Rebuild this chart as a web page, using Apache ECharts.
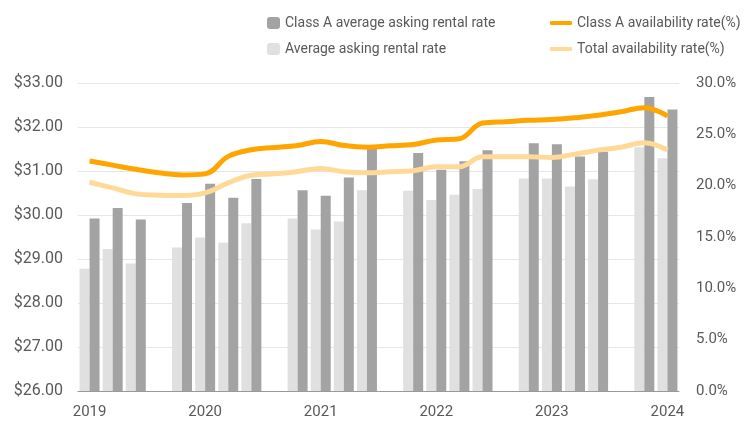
<!DOCTYPE html>
<html>
<head>
<meta charset="utf-8">
<script src="https://cdn.jsdelivr.net/npm/echarts@6/dist/echarts.min.js"></script>
<style>
  html, body { margin: 0; padding: 0; background: #fff; }
  #chart { width: 747px; height: 421px; }
</style>
</head>
<body>
<div id="chart"></div>
<script>
// 26 slots: 4 quarters per year with an empty slot between years
var yearLabels = ["2019", "2020", "2021", "2022", "2023", "2024"];
var slots = [];
for (var i = 0; i < 26; i++) slots.push("s" + i);

var classARent = [29.92, 30.16, 29.90, null, 30.27, 30.71, 30.39, 30.82, null, 30.56, 30.44, 30.85, 31.51, null,
                  31.41, 31.03, 31.22, 31.47, null, 31.63, 31.61, 31.33, 31.44, null, 32.68, 32.40];
var avgRent = [28.78, 29.23, 28.90, null, 29.26, 29.49, 29.37, 29.81, null, 29.92, 29.67, 29.85, 30.56, null,
               30.55, 30.34, 30.46, 30.59, null, 30.83, 30.83, 30.65, 30.81, null, 31.54, 31.29];
var classAAvail = [22.4, 22.0, 21.6, 21.25, 21.05, 21.15, 22.85, 23.5, 23.72, 23.92, 24.3, 23.92, 23.75, 23.88,
                   24.0, 24.45, 24.57, 26.1, 26.23, 26.36, 26.45, 26.62, 26.85, 27.2, 27.6, 26.78];
var totalAvail = [20.33, 19.78, 19.2, 19.07, 19.04, 19.3, 20.27, 21.02, 21.15, 21.38, 21.67, 21.35, 21.25, 21.35,
                  21.45, 21.84, 21.84, 22.81, 22.81, 22.81, 22.75, 23.07, 23.46, 23.75, 24.18, 23.46];

var chart = echarts.init(document.getElementById("chart"));
var font = "Roboto";
var textColor = "#595959";

var option = {
  animation: false,
  textStyle: { fontFamily: font },
  legend: [
    {
      left: 262,
      top: 11,
      orient: "vertical",
      itemWidth: 13,
      itemHeight: 12,
      itemGap: 12,
      textStyle: { fontFamily: font, fontSize: 14, color: textColor, lineHeight: 14 },
      data: ["Class A average asking rental rate", "Average asking rental rate"]
    },
    {
      left: 545,
      top: 11,
      orient: "vertical",
      icon: "roundRect",
      itemWidth: 22,
      itemHeight: 4,
      itemGap: 12,
      textStyle: { fontFamily: font, fontSize: 14, color: textColor, lineHeight: 14 },
      data: ["Class A availability rate(%)", "Total availability rate(%)"]
    }
  ],
  grid: { left: 78, right: 68, top: 83, bottom: 30 },
  xAxis: {
    type: "category",
    data: slots,
    axisTick: { show: false },
    axisLine: { lineStyle: { color: "#999", width: 1 } },
    axisLabel: {
      interval: 0,
      color: textColor,
      fontSize: 15,
      margin: 14,
      formatter: function (v, idx) {
        return idx % 5 === 0 ? yearLabels[idx / 5] : "";
      }
    }
  },
  yAxis: [
    {
      type: "value",
      min: 26,
      max: 33,
      interval: 1,
      axisLine: { show: false },
      axisTick: { show: false },
      splitLine: { lineStyle: { color: "#e6e6e6", width: 1 } },
      axisLabel: {
        color: textColor,
        fontSize: 16,
        margin: 15,
        formatter: function (v) { return "$" + v.toFixed(2); }
      }
    },
    {
      type: "value",
      min: 0,
      max: 30,
      interval: 5,
      axisLine: { show: false },
      axisTick: { show: false },
      splitLine: { show: false },
      axisLabel: {
        color: textColor,
        fontSize: 15,
        margin: 17,
        formatter: function (v) { return v.toFixed(1) + "%"; }
      }
    }
  ],
  series: [
    {
      name: "Average asking rental rate",
      type: "bar",
      barWidth: 10,
      barGap: "0%",
      itemStyle: { color: "#e0e0e0" },
      data: avgRent
    },
    {
      name: "Class A average asking rental rate",
      type: "bar",
      barWidth: 10,
      barGap: "0%",
      itemStyle: { color: "#a3a3a3" },
      data: classARent
    },
    {
      name: "Class A availability rate(%)",
      type: "line",
      yAxisIndex: 1,
      smooth: 0.4,
      symbol: "none",
      lineStyle: { color: "#ffa500", width: 5 },
      itemStyle: { color: "#ffa500" },
      data: classAAvail
    },
    {
      name: "Total availability rate(%)",
      type: "line",
      yAxisIndex: 1,
      smooth: 0.4,
      symbol: "none",
      lineStyle: { color: "#ffd998", width: 5 },
      itemStyle: { color: "#ffd998" },
      data: totalAvail
    }
  ]
};
chart.setOption(option);
</script>
</body>
</html>
